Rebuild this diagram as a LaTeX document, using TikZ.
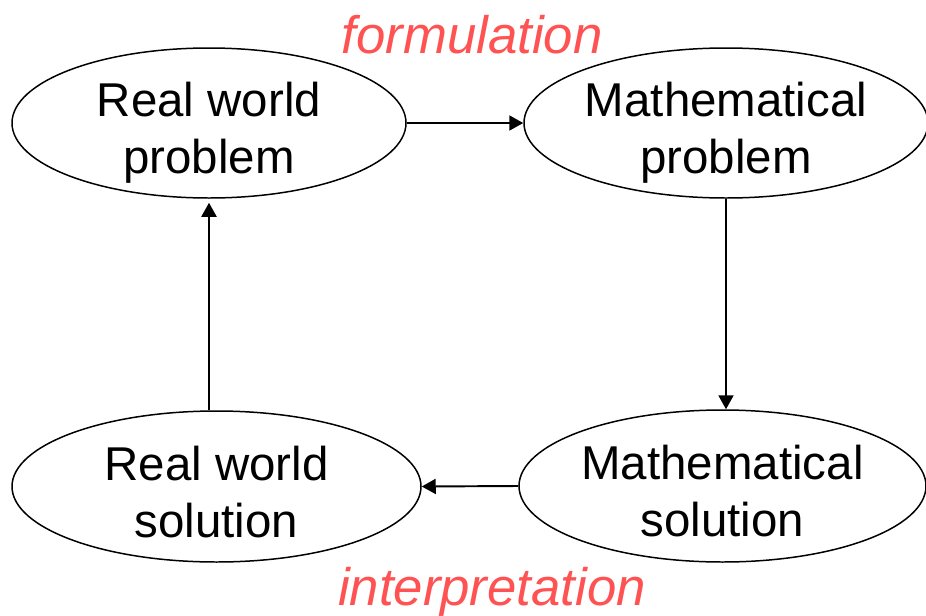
\documentclass[tikz,border=0pt]{standalone}
\usepackage{xcolor}
\usepackage{fontspec}
\setmainfont{Liberation Sans}
\usepackage{tikz}
\usetikzlibrary{arrows.meta,positioning,shapes.geometric}
\definecolor{labelred}{RGB}{255,82,82}

\begin{document}
\begin{tikzpicture}[
  phase/.style={ellipse,draw=black,line width=0.85pt,inner sep=0pt,align=center,
    font=\fontsize{27}{32.4}\selectfont,text height=2.02cm,text depth=0pt},
  steplabel/.style={text=labelred,font=\fontsize{30}{36}\selectfont\itshape,anchor=base,inner sep=0pt},
  arrow/.style={-{Triangle[length=0.28cm,width=0.3cm]},line width=1.1pt}
]
  \useasboundingbox (0,0) rectangle (18.52,-12.32);

  \node[phase,minimum width=7.88cm,minimum height=3.0cm] (rwp) at (4.18,-2.46) {Real world\\problem};
  \node[phase,minimum width=8.08cm,minimum height=3.0cm] (mp) at (14.52,-2.46) {Mathematical\\problem};
  \node[phase,minimum width=8.14cm,minimum height=3.04cm] (ms) at (14.45,-9.72) {Mathematical\\solution};
  \node[phase,minimum width=8.18cm,minimum height=3.02cm] (rws) at (4.33,-9.73) {Real world\\solution};

  \node[steplabel] (form) at (9.44,-1.06) {formulation};
  \node[steplabel] (interp) at (9.84,-12.1) {interpretation};

  \draw[arrow] (rwp.east) -- (mp.west);
  \draw[arrow] (mp.south) -- (mp.south |- ms.north);
  \draw[arrow] (ms.west) -- (rws.east);
  \draw[arrow,shorten >=0.08cm] (rws.north -| rwp.south) -- (rwp.south);
\end{tikzpicture}
\end{document}
